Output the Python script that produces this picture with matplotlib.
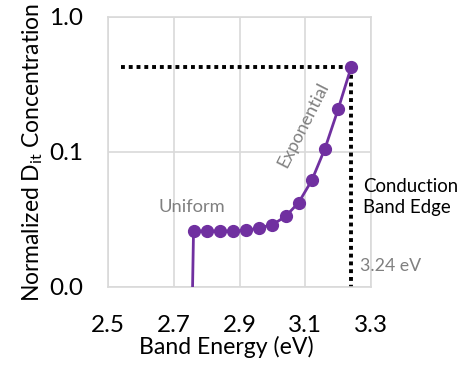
import matplotlib
matplotlib.use('Agg')
import matplotlib.pyplot as plt
from matplotlib.ticker import FuncFormatter, NullLocator

# Data
energy = [2.75, 2.76, 2.80, 2.84, 2.88, 2.92, 2.96, 3.00, 3.04, 3.08, 3.12, 3.16, 3.20, 3.24]
dit = [0.001, 0.026, 0.026, 0.026, 0.026, 0.0262, 0.0274, 0.0289, 0.0333, 0.0422, 0.0617, 0.106, 0.207, 0.427]
edge_energy = 3.24
edge_dit = 0.427
guide_start = 2.54
x_ticks = [2.5, 2.7, 2.9, 3.1, 3.3]
y_ticks = [0.01, 0.1, 1.0]

plt.rcParams['font.family'] = ['Lato', 'DejaVu Sans']
plt.rcParams['mathtext.fontset'] = 'custom'
plt.rcParams['mathtext.rm'] = 'Lato'

purple = '#7030A0'
gray = '#808080'

fig = plt.figure(figsize=(4.58, 3.67), dpi=100)
ax = fig.add_axes([0.236, 0.218, 0.574, 0.736])

ax.set_yscale('log')
ax.set_xlim(2.5, 3.3)
ax.set_ylim(0.01, 1.0)

# data line: the first point has no marker (drop to zero)
ax.plot(energy, dit, color=purple, linewidth=2, zorder=3, clip_on=True)
ax.plot(energy[1:], dit[1:], 'o', color=purple, markersize=8.5, zorder=4)

# dotted guides to the band edge
ax.plot([guide_start, edge_energy], [edge_dit, edge_dit], color='black',
        linestyle=(0, (1, 1)), linewidth=2.8, zorder=2)
ax.plot([edge_energy, edge_energy], [edge_dit, 0.01], color='black',
        linestyle=(0, (1, 1)), linewidth=2.8, zorder=2)

ax.set_xticks(x_ticks)
ax.set_yticks(y_ticks)
ax.yaxis.set_minor_locator(NullLocator())
ax.yaxis.set_major_formatter(FuncFormatter(lambda v, p: f'{v:.1f}'))
ax.tick_params(axis='both', length=0, labelsize=17.5, colors='black')
ax.tick_params(axis='x', pad=20)
ax.tick_params(axis='y', pad=18)

ax.grid(True, color='#d9d9d9', linewidth=1.2)
ax.set_axisbelow(True)
for s in ax.spines.values():
    s.set_color('#d9d9d9')
    s.set_linewidth(1.2)

ax.set_xlabel('Band Energy (eV)', fontsize=16.6)
ax.xaxis.set_label_coords(0.449, -0.18)
ax.set_ylabel(r'Normalized D$_{\mathrm{it}}$ Concentration', fontsize=16.5, labelpad=3)

ax.text(2.755, 0.039, 'Uniform', color=gray, fontsize=13.2, ha='center', va='center')
ax.text(3.093, 0.158, 'Exponential', color=gray, fontsize=13, ha='center',
        va='center', rotation=63)
ax.text(3.275, 0.0464, 'Conduction\nBand Edge', color='black', fontsize=13.4,
        ha='left', va='center', linespacing=1.3)
ax.text(3.267, 0.0143, '3.24 eV', color=gray, fontsize=12.8, ha='left', va='center')

fig.savefig('out.png', dpi=100)
